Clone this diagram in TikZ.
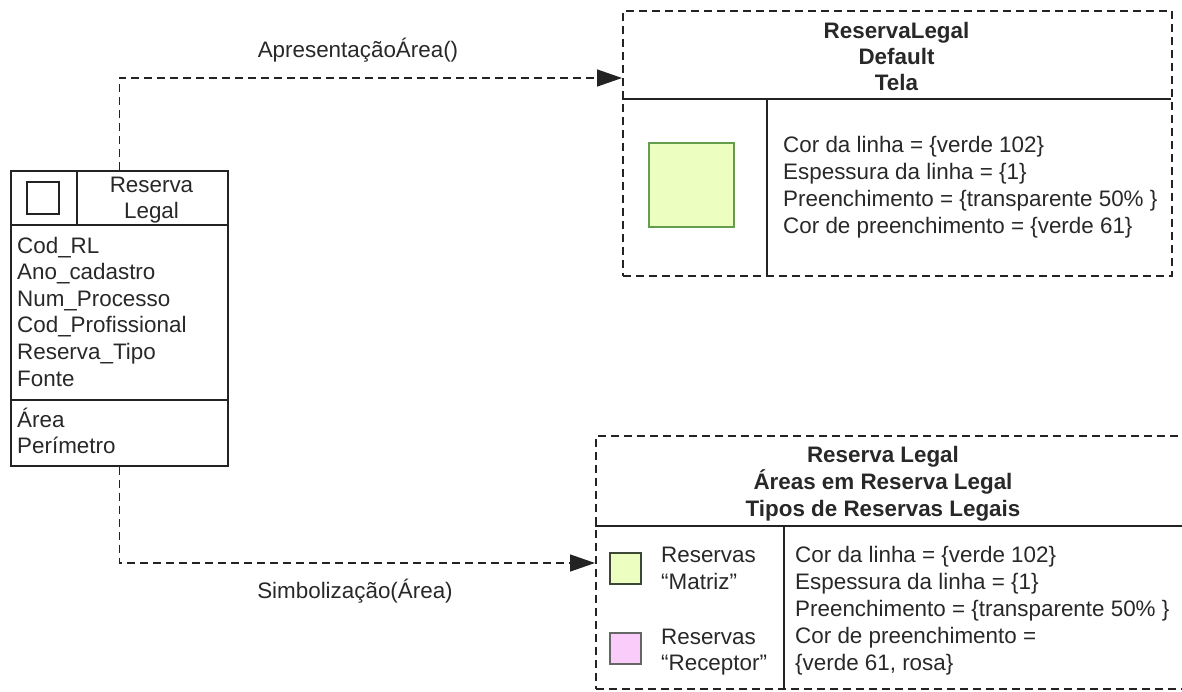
\documentclass[tikz,border=0pt]{standalone}
\usepackage{fontspec}
\setmainfont{Liberation Sans}
\usetikzlibrary{arrows.meta}

\definecolor{verdeclaro}{RGB}{236,255,192}
\definecolor{verdelinha}{RGB}{98,158,78}
\definecolor{verdeescuro}{RGB}{60,72,52}
\definecolor{rosa}{RGB}{250,204,250}
\definecolor{cinzalinha}{RGB}{35,35,35}
\definecolor{texto}{RGB}{40,40,40}

\tikzset{
    txt/.style={inner sep=0pt, text=texto, anchor=base west, font=\fontsize{22.4}{26.8}\selectfont},
    tit/.style={txt, anchor=base, font=\fontsize{22.4}{26.8}\selectfont\bfseries},
    linha/.style={draw=cinzalinha, line width=1.5pt},
    caixa/.style={draw=cinzalinha, line width=1.5pt, dash pattern=on 8pt off 5pt, inner sep=0pt, anchor=north west},
    classebox/.style={draw=cinzalinha, line width=1.5pt, inner sep=0pt, anchor=north west},
    conn/.style={draw=cinzalinha, line width=1.5pt, dash pattern=on 8pt off 5pt, -{Triangle[length=25pt,width=17pt]}},
}

\begin{document}
\begin{tikzpicture}[x=1pt, y=-1pt]
    \useasboundingbox (0,0) rectangle (1182,691);

    % classe Reserva Legal
    \node[classebox, minimum width=217, minimum height=295] (classe) at (10,170) {};
    \draw[linha] (10,225) -- (227,225);
    \draw[linha] (77,170) -- (77,225);
    \draw[linha] (10,400) -- (227,400);
    \node[draw=cinzalinha, line width=1.3pt, minimum size=32, inner sep=0pt] (icone) at (43,198) {};
    \node[txt, anchor=base] (nome1) at (151.5,192) {Reserva};
    \node[txt, anchor=base] (nome2) at (151.5,218) {Legal};
    \foreach \t [count=\i] in {Cod\_RL, Ano\_cadastro, Num\_Processo, Cod\_Profissional, Reserva\_Tipo, Fonte}
        \node[txt] (attr\i) at (17,{253+26.6*(\i-1)}) {\t};
    \foreach \t [count=\i] in {Área, Perímetro}
        \node[txt] (op\i) at (17,{427+26.6*(\i-1)}) {\t};

    % tela default
    \node[caixa, minimum width=549, minimum height=265] (tela) at (622,10) {};
    \draw[linha] (622,99) -- (1171,99);
    \draw[linha] (767,99) -- (767,275);
    \foreach \t [count=\i] in {ReservaLegal, Default, Tela}
        \node[tit] (tit\i) at (896.5,{38+26*(\i-1)}) {\t};
    \node[draw=verdelinha, fill=verdeclaro, line width=1.5pt, minimum width=85, minimum height=84, inner sep=0pt] (amostra) at (691.5,185) {};
    \foreach \t [count=\i] in {Cor da linha = \{verde 102\}, Espessura da linha = \{1\}, Preenchimento = \{transparente 50\% \}, Cor de preenchimento = \{verde 61\}}
        \node[txt] (prop\i) at (783,{152+27.2*(\i-1)}) {\t};

    % simbolizacao
    \node[caixa, minimum width=600, minimum height=253] (simb) at (595,435) {};
    \draw[linha] (595,526) -- (1195,526);
    \draw[linha] (784,526) -- (784,688);
    \foreach \t [count=\i] in {Reserva Legal, Áreas em Reserva Legal, Tipos de Reservas Legais}
        \node[tit] (stit\i) at (883,{462+27*(\i-1)}) {\t};
    \node[draw=verdeescuro, fill=verdeclaro, line width=1.3pt, minimum size=31, inner sep=0pt] (matriz) at (625.5,568.5) {};
    \node[draw=black!60, fill=rosa, line width=1.3pt, minimum size=31, inner sep=0pt] (receptor) at (625.5,648.5) {};
    \node[txt] (lm1) at (661,562) {Reservas};
    \node[txt] (lm2) at (661,589) {“Matriz”};
    \node[txt] (lr1) at (661,644) {Reservas};
    \node[txt] (lr2) at (661,670) {“Receptor”};
    \foreach \t [count=\i] in {Cor da linha = \{verde 102\}, Espessura da linha = \{1\}, Preenchimento = \{transparente 50\% \}, Cor de preenchimento =, {\{verde 61, rosa\}}}
        \node[txt] (sprop\i) at (795,{562+27*(\i-1)}) {\t};

    % ligacoes
    \coordinate (telain) at (622,78);
    \coordinate (simbin) at (595,563);
    \draw[conn] (classe.north) |- (telain);
    \draw[conn] (classe.south) |- (simbin);
    \node[txt, anchor=base] (lblapr) at (358,57) {ApresentaçãoÁrea()};
    \node[txt, anchor=base] (lblsimb) at (355,598) {Simbolização(Área)};
\end{tikzpicture}
\end{document}
